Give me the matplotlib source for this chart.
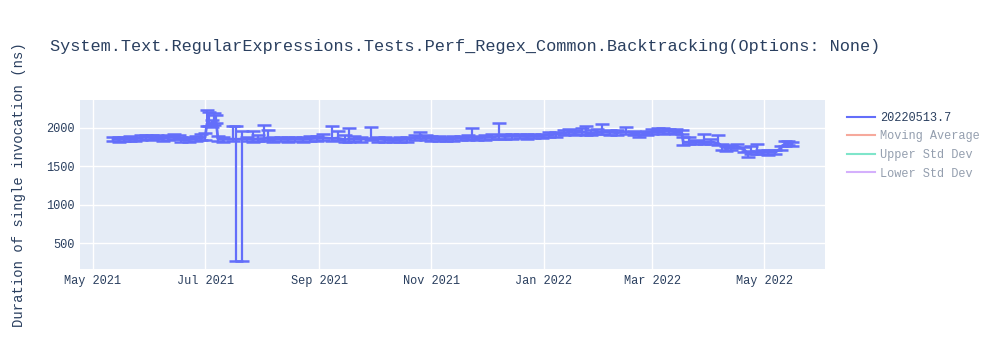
import numpy as np
import pandas as pd
import matplotlib
matplotlib.use("Agg")
import matplotlib.pyplot as plt
import matplotlib.dates as mdates
from matplotlib.lines import Line2D

# dane
daty = ["2021-05-12", "2021-05-15", "2021-05-18", "2021-05-21", "2021-05-24", "2021-05-27",
        "2021-05-30", "2021-06-02", "2021-06-05", "2021-06-08", "2021-06-11", "2021-06-14",
        "2021-06-17", "2021-06-18", "2021-06-22", "2021-06-26", "2021-06-29", "2021-07-01",
        "2021-07-02", "2021-07-03", "2021-07-05", "2021-07-06", "2021-07-07", "2021-07-08",
        "2021-07-11", "2021-07-16", "2021-07-18", "2021-07-21", "2021-07-24", "2021-07-27",
        "2021-07-30", "2021-08-02", "2021-08-04", "2021-08-07", "2021-08-11", "2021-08-15",
        "2021-08-19", "2021-08-23", "2021-08-27", "2021-08-31", "2021-09-03", "2021-09-08",
        "2021-09-11", "2021-09-15", "2021-09-17", "2021-09-20", "2021-09-24", "2021-09-29",
        "2021-10-03", "2021-10-07", "2021-10-11", "2021-10-15", "2021-10-19", "2021-10-23",
        "2021-10-26", "2021-10-29", "2021-11-01", "2021-11-05", "2021-11-09", "2021-11-13",
        "2021-11-17", "2021-11-21", "2021-11-23", "2021-11-26", "2021-11-30", "2021-12-04",
        "2021-12-08", "2021-12-11", "2021-12-15", "2021-12-19", "2021-12-23", "2021-12-27",
        "2021-12-31", "2022-01-04", "2022-01-08", "2022-01-12", "2022-01-15", "2022-01-18",
        "2022-01-22", "2022-01-24", "2022-01-27", "2022-01-30", "2022-02-02", "2022-02-06",
        "2022-02-10", "2022-02-15", "2022-02-19", "2022-02-22", "2022-02-26", "2022-03-01",
        "2022-03-04", "2022-03-07", "2022-03-10", "2022-03-14", "2022-03-17", "2022-03-18",
        "2022-03-21", "2022-03-25", "2022-03-29", "2022-04-02", "2022-04-06", "2022-04-08",
        "2022-04-10", "2022-04-13", "2022-04-16", "2022-04-20", "2022-04-22", "2022-04-24",
        "2022-04-27", "2022-04-30", "2022-05-03", "2022-05-07", "2022-05-10", "2022-05-12",
        "2022-05-14", "2022-05-16"]

wartosci = [1850, 1848, 1855, 1860, 1852, 1870, 1880, 1868, 1875, 1860, 1872, 1878,
            1880, 1842, 1845, 1855, 1870, 1875, 2050, 2060, 2045, 2070, 2085, 1855,
            1850, 1852, 1850, 1852, 1855, 1850, 1858, 1860, 1865, 1850, 1852, 1848,
            1855, 1850, 1858, 1862, 1870, 1860, 1865, 1845, 1850, 1855, 1850, 1860,
            1850, 1845, 1842, 1845, 1848, 1870, 1895, 1870, 1862, 1855, 1852, 1858,
            1865, 1870, 1880, 1860, 1875, 1880, 1890, 1885, 1888, 1890, 1885, 1888,
            1895, 1905, 1915, 1930, 1945, 1935, 1950, 1940, 1925, 1945, 1950, 1940,
            1935, 1948, 1930, 1905, 1925, 1945, 1965, 1955, 1958, 1945, 1940, 1810,
            1812, 1815, 1810, 1818, 1798, 1760, 1730, 1745, 1760, 1720, 1660, 1690,
            1688, 1680, 1682, 1680, 1735, 1790, 1800, 1790]

blad_dol = [25, 30, 25, 30, 25, 30, 25, 30, 25, 30, 25, 30,
            25, 30, 25, 30, 25, 30, 30, 35, 30, 35, 30, 25,
            30, 25, 1580, 1580, 25, 30, 25, 30, 25, 30, 25, 30,
            25, 30, 25, 30, 25, 30, 30, 25, 30, 25, 30, 25,
            30, 25, 30, 25, 30, 25, 30, 25, 30, 25, 30, 25,
            30, 25, 30, 25, 30, 25, 30, 25, 30, 25, 30, 25,
            30, 25, 30, 25, 30, 25, 30, 30, 25, 30, 25, 30,
            25, 30, 25, 30, 25, 30, 25, 30, 25, 30, 25, 30,
            25, 30, 25, 30, 25, 55, 35, 30, 25, 30, 40, 25,
            30, 25, 30, 25, 30, 25, 30, 25]

blad_gora = [30, 35, 30, 35, 30, 35, 30, 35, 30, 35, 30, 35,
             30, 35, 30, 35, 45, 60, 185, 150, 60, 120, 80, 35,
             30, 170, 170, 110, 30, 110, 45, 180, 100, 35, 30, 35,
             30, 35, 30, 35, 50, 165, 95, 60, 140, 35, 30, 145,
             30, 35, 30, 35, 30, 35, 55, 35, 30, 35, 30, 35,
             30, 35, 110, 35, 30, 35, 165, 35, 30, 35, 30, 35,
             30, 35, 30, 35, 40, 40, 45, 80, 40, 35, 95, 35,
             30, 65, 30, 35, 30, 35, 30, 35, 30, 35, 30, 70,
             65, 30, 115, 30, 105, 30, 30, 35, 30, 30, 35, 75,
             95, 30, 35, 30, 30, 35, 30, 30]

legenda = ["20220513.7", "Moving Average", "Upper Std Dev", "Lower Std Dev"]
kolory = ["#636EFA", "#EF553B", "#00CC96", "#AB63FA"]

tytul = "System.Text.RegularExpressions.Tests.Perf_Regex_Common.Backtracking(Options: None)"

plt.rcParams['font.family'] = ['Liberation Mono', 'DejaVu Sans']
tekst = "#2a3f5f"

x = pd.to_datetime(daty)
y = np.array(wartosci)

fig = plt.figure(figsize=(10, 3.5), dpi=100)
ax = fig.add_axes([0.08, 0.2314, 0.745, 0.4829])
ax.set_facecolor("#E5ECF6")

ax.errorbar(x, y, yerr=[blad_dol, blad_gora], color=kolory[0], lw=2,
            elinewidth=1.6, capsize=5, capthick=1.8, zorder=3)

ax.set_xlim(pd.Timestamp("2021-04-24"), pd.Timestamp("2022-06-03"))
ax.set_ylim(166, 2360)
ax.set_yticks([500, 1000, 1500, 2000])
ax.xaxis.set_major_locator(mdates.MonthLocator(bymonth=[1, 3, 5, 7, 9, 11]))
ax.xaxis.set_major_formatter(mdates.DateFormatter("%b %Y"))

ax.grid(True, color="white", lw=1)
ax.set_axisbelow(True)
for s in ax.spines.values():
    s.set_visible(False)
ax.tick_params(length=0, labelsize=8.6, labelcolor=tekst, pad=4)
ax.set_ylabel("Duration of single invocation (ns)", fontsize=10, color=tekst, labelpad=14)

fig.text(0.05, 0.868, tytul, fontsize=12.2, color=tekst, va="center", ha="left")

uchwyty = [Line2D([], [], color=kolory[0], lw=1.5)]
for k in kolory[1:]:
    uchwyty.append(Line2D([], [], color=k, lw=1.5, alpha=0.5))
leg = fig.legend(uchwyty, legenda, loc="upper left", bbox_to_anchor=(0.842, 0.694),
                 frameon=False, fontsize=8.6, handlelength=2.4, handletextpad=0.4,
                 labelspacing=0.55, borderaxespad=0)
for i, t in enumerate(leg.get_texts()):
    t.set_color(tekst)
    if i > 0:
        t.set_alpha(0.5)

fig.savefig("out.png", dpi=100)
